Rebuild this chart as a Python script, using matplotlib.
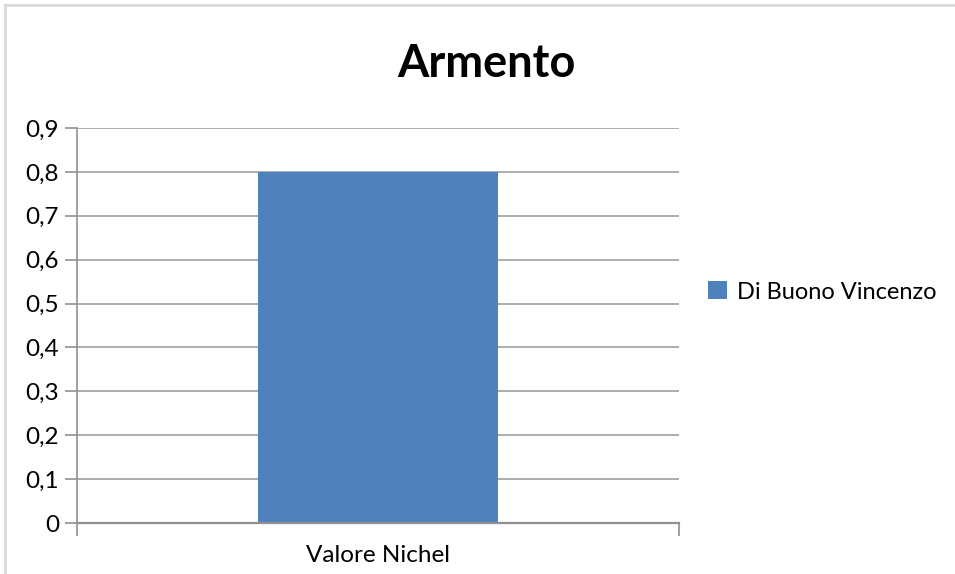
import matplotlib
matplotlib.use("Agg")
import matplotlib.pyplot as plt
from matplotlib.lines import Line2D
from matplotlib.patches import Patch

# data
categories = ["Valore Nichel"]
series_name = "Di Buono Vincenzo"
values = [0.8]
yticks = [0, 0.1, 0.2, 0.3, 0.4, 0.5, 0.6, 0.7, 0.8, 0.9]
ytick_labels = ["0", "0,1", "0,2", "0,3", "0,4", "0,5", "0,6", "0,7", "0,8", "0,9"]

plt.rcParams["font.family"] = ["Lato", "DejaVu Sans"]

fig = plt.figure(figsize=(9.55, 5.74), dpi=100)
W, H = 955, 574

# light outer chart border (left and top edges visible)
fig.lines.append(Line2D([5 / W, 5 / W], [0, 1 - 5 / H], transform=fig.transFigure,
                        color="#d9d9d9", linewidth=2))
fig.lines.append(Line2D([5 / W, 1], [1 - 5 / H, 1 - 5 / H], transform=fig.transFigure,
                        color="#d9d9d9", linewidth=2))

ax = fig.add_axes([77 / W, (H - 523) / H, (679 - 77) / W, (523 - 128) / H])
ax.bar(range(len(categories)), values, width=0.4, color="#4F81BD", zorder=2)
ax.set_xlim(-0.5, len(categories) - 0.5)
ax.set_ylim(0, 0.9)

ax.set_yticks(yticks)
ax.set_yticklabels(ytick_labels, fontsize=17.5)
ax.set_xticks([-0.5, 0.5], minor=False)
ax.set_xticklabels([])
ax.set_xticks(range(len(categories)), minor=True)
ax.set_xticklabels(categories, minor=True, fontsize=17.5)
ax.tick_params(axis="x", which="minor", length=0, pad=16)
ax.tick_params(axis="x", which="major", length=9, color="#909090", width=1.2)
ax.tick_params(axis="y", length=9, color="#909090", width=1.2, pad=4)

ax.grid(axis="y", color="#a0a0a0", linewidth=1.2, zorder=0)
for s in ["top", "right"]:
    ax.spines[s].set_visible(False)
ax.spines["left"].set_color("#909090")
ax.spines["bottom"].set_color("#909090")
ax.spines["left"].set_linewidth(1.2)
ax.spines["bottom"].set_linewidth(1.6)

fig.text(486 / W, 1 - 64 / H, "Armento", ha="center", va="center",
         fontsize=32.5, fontweight="bold")

fig.legend(handles=[Patch(facecolor="#4F81BD", label=series_name)],
           loc="center left", bbox_to_anchor=(687 / W, 1 - 292 / H),
           frameon=False, fontsize=17, handlelength=0.8, handleheight=0.8,
           handletextpad=0.4)

fig.savefig("out.png", dpi=100)
